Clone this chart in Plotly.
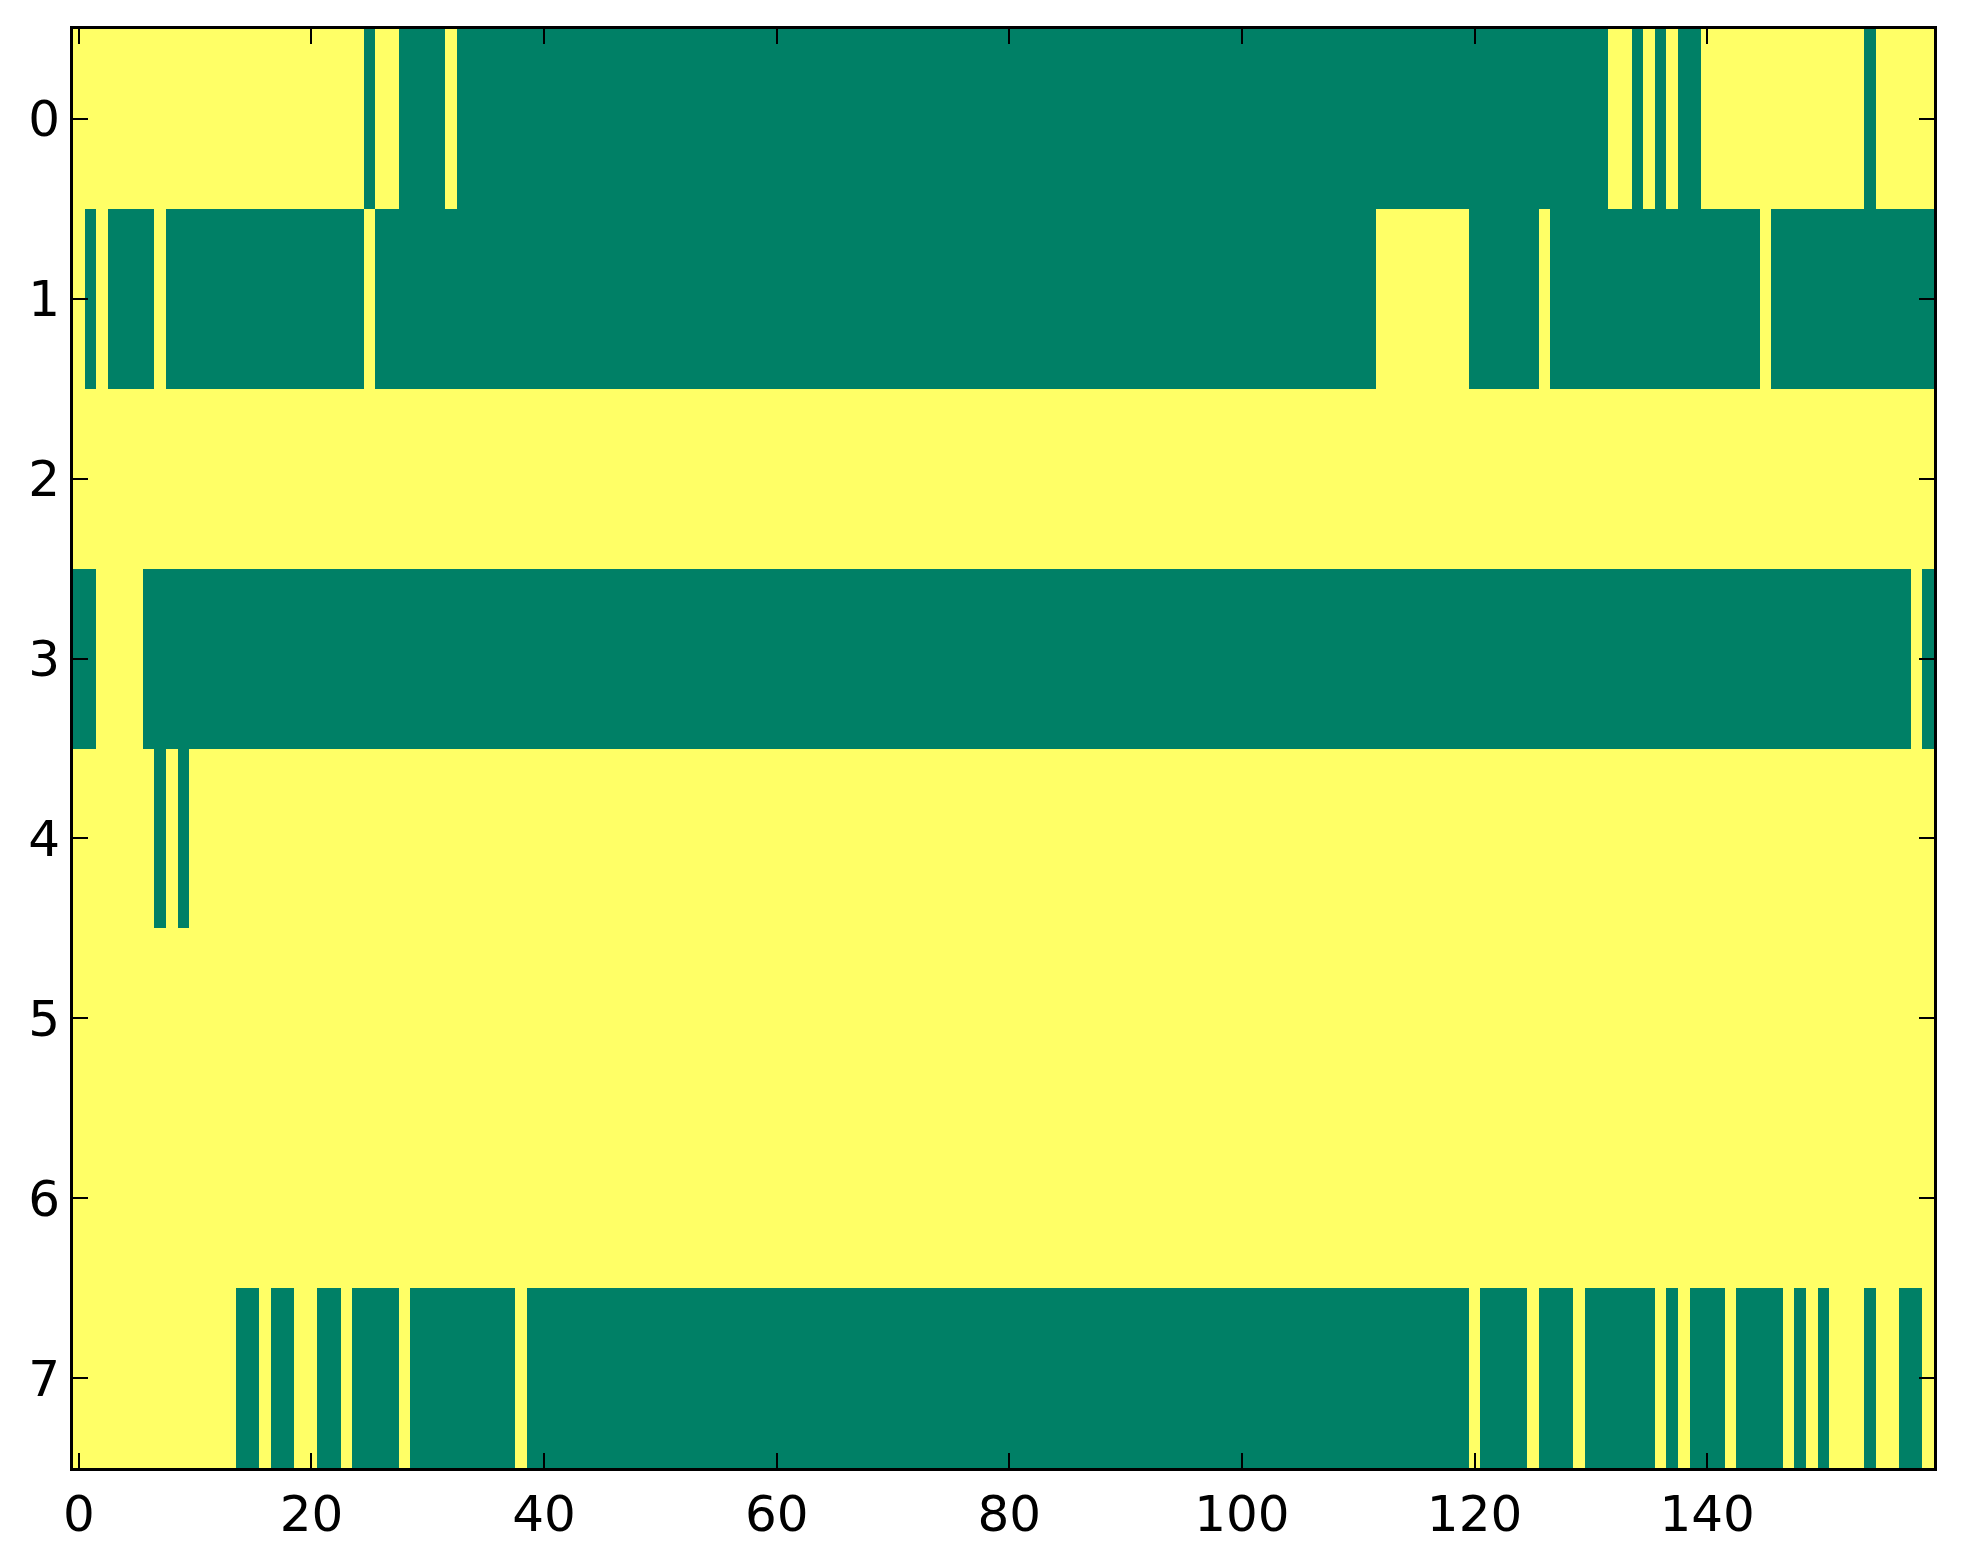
import plotly.graph_objects as go

# each row stored as runs of (value, length): 1 = yellow, 0 = green
row0 = [(1, 25), (0, 1), (1, 2), (0, 4), (1, 1), (0, 99), (1, 2), (0, 1), (1, 1),
        (0, 1), (1, 1), (0, 2), (1, 14), (0, 1), (1, 5)]
row1 = [(1, 1), (0, 1), (1, 1), (0, 4), (1, 1), (0, 17), (1, 1), (0, 86), (1, 8),
        (0, 6), (1, 1), (0, 18), (1, 1), (0, 14)]
row2 = [(1, 160)]
row3 = [(0, 2), (1, 4), (0, 152), (1, 1), (0, 1)]
row4 = [(1, 7), (0, 1), (1, 1), (0, 1), (1, 150)]
row5 = [(1, 160)]
row6 = [(1, 160)]
row7 = [(1, 14), (0, 2), (1, 1), (0, 2), (1, 2), (0, 2), (1, 1), (0, 4), (1, 1),
        (0, 9), (1, 1), (0, 81), (1, 1), (0, 4), (1, 1), (0, 3), (1, 1), (0, 6),
        (1, 1), (0, 1), (1, 1), (0, 3), (1, 1), (0, 4), (1, 1), (0, 1), (1, 1),
        (0, 1), (1, 3), (0, 1), (1, 2), (0, 2), (1, 1)]

rows = [row0, row1, row2, row3, row4, row5, row6, row7]
xticks = [0, 20, 40, 60, 80, 100, 120, 140]
yticks = [0, 1, 2, 3, 4, 5, 6, 7]


def expand(runs):
    out = []
    for v, n in runs:
        out += [v] * n
    return out


z = [expand(r) for r in rows]
ncols = len(z[0])

trace = go.Heatmap(
    z=z,
    x=list(range(ncols)),
    y=list(range(len(z))),
    colorscale=[[0, '#008066'], [1, '#ffff66']],
    zmin=0, zmax=1,
    showscale=False,
    hoverinfo='skip',
)

axis_style = dict(
    showline=True, linecolor='black', linewidth=3, mirror='ticks',
    ticks='inside', ticklen=15, tickwidth=2, tickcolor='black',
    showgrid=False, zeroline=False,
    tickfont=dict(family='DejaVu Sans', size=50, color='black'),
)

layout = go.Layout(
    width=1947, height=1546,
    margin=dict(l=65, r=21, t=21, b=86),
    paper_bgcolor='white', plot_bgcolor='white',
    xaxis=dict(range=[-0.5, ncols - 0.5], tickvals=xticks, **axis_style),
    yaxis=dict(range=[len(z) - 0.5, -0.5], tickvals=yticks, **axis_style),
)

fig = go.Figure(data=[trace], layout=layout)
fig.write_html("out.html")
